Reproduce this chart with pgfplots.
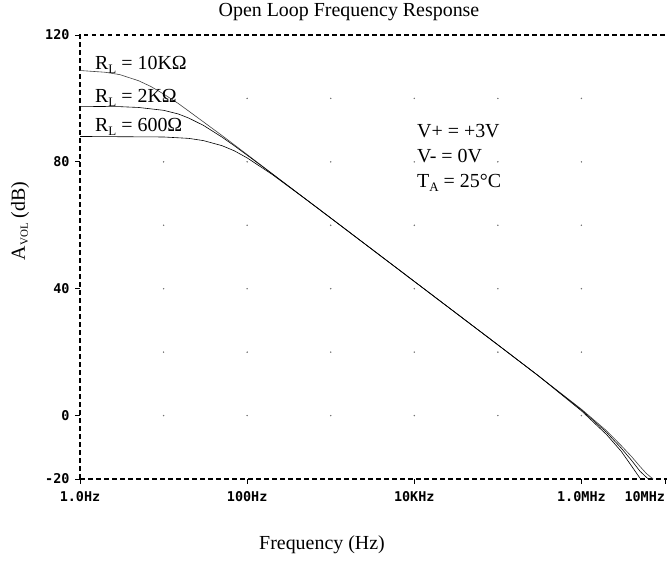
\documentclass[border=0pt]{standalone}
\usepackage{fontspec}
\setmainfont{Liberation Serif}
\setmonofont{DejaVu Sans Mono}
\usepackage{pgfplots}
\pgfplotsset{compat=1.18}
\begin{document}
\begin{tikzpicture}[x=1bp,y=1bp]
\path[use as bounding box] (-80,-84) rectangle (587,479);
\begin{axis}[
  at={(0,0)}, anchor=south west,
  scale only axis, width=585bp, height=444bp,
  xmode=log, xmin=1, xmax=1e7, ymin=-20, ymax=120,
  clip=false,
  axis line style={draw=none},
  xtick={1,100,1e4,1e6,1e7},
  xticklabels={1.0Hz,100Hz,10KHz,1.0MHz,\makebox[0pt][r]{10MHz}},
  ytick={-20,0,40,80,120},
  yticklabels={-20,0,40,80,120},
  /pgf/number format/assume math mode=true,
  xtick pos=bottom, ytick pos=left,
  tick align=outside, major tick length=5bp,
  tick style={black, line width=0.8pt},
  minor tick num=0,
  ticklabel style={font=\fontsize{13.5}{15}\ttfamily\bfseries},
  xticklabel style={yshift=-4bp},
  yticklabel style={xshift=-2bp},
]
\addplot[only marks, mark=*, mark size=0.5pt, black!55] coordinates {
(10,0)(10,20)(10,40)(10,60)(10,80)(10,100)
(100,0)(100,20)(100,40)(100,60)(100,80)(100,100)
(1000,0)(1000,20)(1000,40)(1000,60)(1000,80)(1000,100)
(1e4,0)(1e4,20)(1e4,40)(1e4,60)(1e4,80)(1e4,100)
(1e5,0)(1e5,20)(1e5,40)(1e5,60)(1e5,80)(1e5,100)
(1e6,0)(1e6,20)(1e6,40)(1e6,60)(1e6,80)(1e6,100)
};
\draw[line width=1.2pt, dash pattern=on 4.5bp off 3.5bp] (rel axis cs:0,0) -- (rel axis cs:0,1) -- (rel axis cs:1.01,1);
\draw[line width=1.2pt, dash pattern=on 4.5bp off 3.5bp] (rel axis cs:0,0) -- (rel axis cs:1.01,0);
% RL = 10K
\addplot[black!75, line width=0.6pt] coordinates {
(1,108.8)(2,108.25)(3,107.5)(5,105.6)(7,103.8)(10,101.4)(15,98.4)(20,96.0)(30,92.6)(50,88.3)(70,85.4)(100,82.3)(200,76.25)(500,68.3)(1000,62.3)(1e4,42.3)(1e5,22.3)(3e5,12.7)(1e6,2.0)(2e6,-4.8)(3e6,-9.5)(4e6,-13)(5e6,-16)(6e6,-18.3)(7.2e6,-20)
};
% RL = 2K
\addplot[black, line width=0.6pt] coordinates {
(1,97.5)(3,97.4)(5,97.15)(10,96.25)(15,95.1)(20,93.8)(30,91.5)(50,87.8)(70,85.1)(100,82.1)(200,76.2)(500,68.3)(1000,62.3)(1e4,42.3)(1e5,22.3)(3e5,12.7)(1e6,1.8)(2e6,-5.3)(3e6,-10.3)(4e6,-14.2)(5e6,-17.5)(6.3e6,-20)
};
% RL = 600
\addplot[black, line width=0.6pt] coordinates {
(1,88)(10,87.84)(20,87.4)(30,86.7)(50,85.1)(70,83.5)(100,81.25)(200,76.0)(500,68.25)(1000,62.27)(1e4,42.3)(1e5,22.3)(3e5,12.7)(1e6,1.5)(2e6,-6.0)(3e6,-11.3)(4e6,-16)(5.1e6,-20)
};
\end{axis}
\begin{scope}[every node/.style={font=\fontsize{20}{22}\selectfont, inner sep=0pt}]
\node at (269,467) {Open Loop Frequency Response};
\node at (242,-66) {Frequency (Hz)};
\node[rotate=90] at (-60,258) {A\raisebox{-0.35ex}{\fontsize{11}{12}\selectfont VOL} (dB)};
\node[anchor=base west] at (15,409) {R\raisebox{-0.35ex}{\fontsize{13}{14}\selectfont L} = 10KΩ};
\node[anchor=base west] at (15,376) {R\raisebox{-0.35ex}{\fontsize{13}{14}\selectfont L} = 2KΩ};
\node[anchor=base west] at (15,347) {R\raisebox{-0.35ex}{\fontsize{13}{14}\selectfont L} = 600Ω};
\node[anchor=base west] at (337,341) {V+ = +3V};
\node[anchor=base west] at (337,316) {V- = 0V};
\node[anchor=base west] at (337,291) {T\raisebox{-0.35ex}{\fontsize{13}{14}\selectfont A} = 25°C};
\end{scope}
\end{tikzpicture}
\end{document}
